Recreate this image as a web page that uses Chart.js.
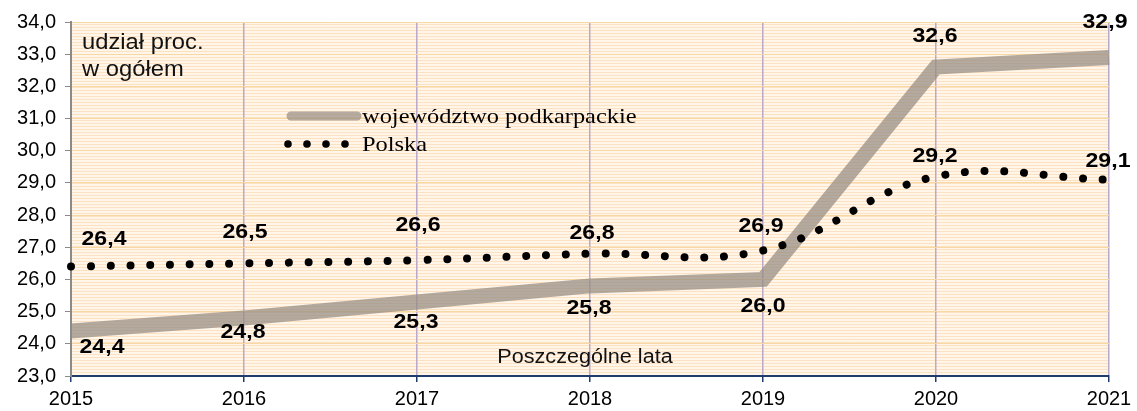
<!DOCTYPE html>
<html>
<head>
<meta charset="utf-8">
<script src="https://cdn.jsdelivr.net/npm/chart.js@4.4.1/dist/chart.umd.min.js"></script>
<style>
    html, body { margin: 0; padding: 0; background: #fff; }
</style>
</head>
<body>
<canvas id="chart" width="1137" height="411"></canvas>
<script>
// Dane wykresu
const years = ["2015", "2016", "2017", "2018", "2019", "2020", "2021"];
const podkarpackie = [24.4, 24.8, 25.3, 25.8, 26.0, 32.6, 32.9];
const polska = [26.4, 26.5, 26.6, 26.8, 26.9, 29.2, 29.1];
const yMin = 23;
const yMax = 34;
const seriesNames = ["województwo podkarpackie", "Polska"];
const yAxisNote = ["udział proc.", "w ogółem"];
const xAxisNote = "Poszczególne lata";

const SANS = "'Liberation Sans', Arial, sans-serif";
const SERIF = "'Liberation Serif', 'Times New Roman', serif";

// Przesunięcia etykiet wartości względem punktów (px)
const labelOffsets = {
    polska: { dx: [33, 1, 1, 2, -2, -1, -1], dy: [-27, -31, -35, -21, -24, -20, -18] },
    podkarpackie: { dx: [31, -1, -1, -1, 0, -1, -4], dy: [16, 14, 20, 22, 27, -31, -35] }
};

// tekst lekko rozciągnięty w poziomie (jak w oryginale)
function wideText(ctx, txt, x, y, sx) {
    ctx.save();
    ctx.translate(x, y);
    ctx.scale(sx, 1);
    ctx.fillText(txt, 0, 0);
    ctx.restore();
}

// Tło obszaru wykresu w poziome paski
function makeStripePattern(ctx) {
    const c = document.createElement("canvas");
    c.width = 4;
    c.height = 3;
    const p = c.getContext("2d");
    p.fillStyle = "#fff5e9";
    p.fillRect(0, 0, 4, 3);
    p.fillStyle = "#fce1c2";
    p.fillRect(0, 0, 4, 1);
    return ctx.createPattern(c, "repeat");
}

const backgroundPlugin = {
    id: "stripedBackground",
    beforeDraw(chart) {
        const { ctx, chartArea: a } = chart;
        ctx.save();
        ctx.fillStyle = makeStripePattern(ctx);
        ctx.fillRect(a.left, a.top, a.right - a.left, a.bottom - a.top);
        ctx.restore();
    }
};

// Etykiety wartości, opisy osi i legenda
const annotationsPlugin = {
    id: "annotations",
    afterDatasetsDraw(chart) {
        const { ctx, chartArea: a } = chart;
        ctx.save();

        // wartości
        ctx.fillStyle = "#000";
        ctx.font = "bold 21px " + SANS;
        ctx.textAlign = "center";
        ctx.textBaseline = "middle";
        chart.data.datasets.forEach((ds, di) => {
            const meta = chart.getDatasetMeta(di);
            const off = labelOffsets[ds.key];
            meta.data.forEach((pt, i) => {
                const txt = ds.data[i].toFixed(1).replace(".", ",");
                wideText(ctx, txt, pt.x + off.dx[i], pt.y + off.dy[i], 1.1);
            });
        });

        // opisy osi
        ctx.font = "22px " + SANS;
        ctx.textAlign = "left";
        ctx.fillStyle = "#111";
        wideText(ctx, yAxisNote[0], a.left + 11, a.top + 21, 1.08);
        wideText(ctx, yAxisNote[1], a.left + 11, a.top + 48, 1.08);
        ctx.textAlign = "center";
        ctx.font = "20px " + SANS;
        wideText(ctx, xAxisNote, a.left + 514, a.bottom - 19, 1.08);

        // legenda
        const lx = a.left + 216;
        const ly1 = a.top + 94;
        const ly2 = a.top + 122;
        ctx.strokeStyle = "rgba(150,140,130,0.7)";
        ctx.lineWidth = 9;
        ctx.lineCap = "round";
        ctx.beginPath();
        ctx.moveTo(lx + 4, ly1);
        ctx.lineTo(lx + 70, ly1);
        ctx.stroke();
        ctx.fillStyle = "#000";
        [0, 19, 38, 57].forEach(d => {
            ctx.beginPath();
            ctx.arc(lx + 1 + d, ly2, 3.8, 0, Math.PI * 2);
            ctx.fill();
        });
        ctx.font = "22px " + SERIF;
        ctx.textAlign = "left";
        wideText(ctx, seriesNames[0], lx + 75, ly1 + 1, 1.11);
        wideText(ctx, seriesNames[1], lx + 75, ly2 + 1, 1.11);

        ctx.restore();
    }
};

new Chart(document.getElementById("chart").getContext("2d"), {
    type: "line",
    data: {
        labels: years,
        datasets: [
            {
                key: "polska",
                label: seriesNames[1],
                data: polska,
                borderColor: "#000",
                borderWidth: 8,
                borderDash: [0.001, 19.8],
                borderCapStyle: "round",
                pointRadius: 0,
                tension: 0.4,
                order: 0
            },
            {
                key: "podkarpackie",
                label: seriesNames[0],
                data: podkarpackie,
                borderColor: "rgba(150,140,130,0.72)",
                borderWidth: 15,
                borderJoinStyle: "miter",
                pointRadius: 0,
                tension: 0,
                order: 1
            }
        ]
    },
    options: {
        responsive: false,
        animation: false,
        layout: { padding: { left: 0, right: 28, top: 22, bottom: 0 } },
        plugins: {
            legend: { display: false },
            tooltip: { enabled: false }
        },
        scales: {
            x: {
                type: "category",
                offset: false,
                afterFit: scale => { scale.height = 35; },
                grid: {
                    color: "#b9aac8",
                    lineWidth: 1.5,
                    tickLength: 6,
                    tickColor: "#1f3c6c"
                },
                border: { color: "#1f3c6c", width: 2 },
                ticks: {
                    font: { family: SANS, size: 20 },
                    color: "#000",
                    padding: 5,
                    maxRotation: 0,
                    autoSkip: false
                }
            },
            y: {
                min: yMin,
                max: yMax,
                afterFit: scale => { scale.width = 71; },
                grid: {
                    color: "#f7d7a2",
                    lineWidth: 1,
                    tickLength: 6,
                    tickColor: "#8a8a8a"
                },
                border: { color: "#8a8a8a", width: 2 },
                ticks: {
                    stepSize: 1,
                    font: { family: SANS, size: 20 },
                    color: "#000",
                    padding: 9,
                    callback: v => v.toFixed(1).replace(".", ",")
                }
            }
        }
    },
    plugins: [backgroundPlugin, annotationsPlugin]
});
</script>
</body>
</html>
